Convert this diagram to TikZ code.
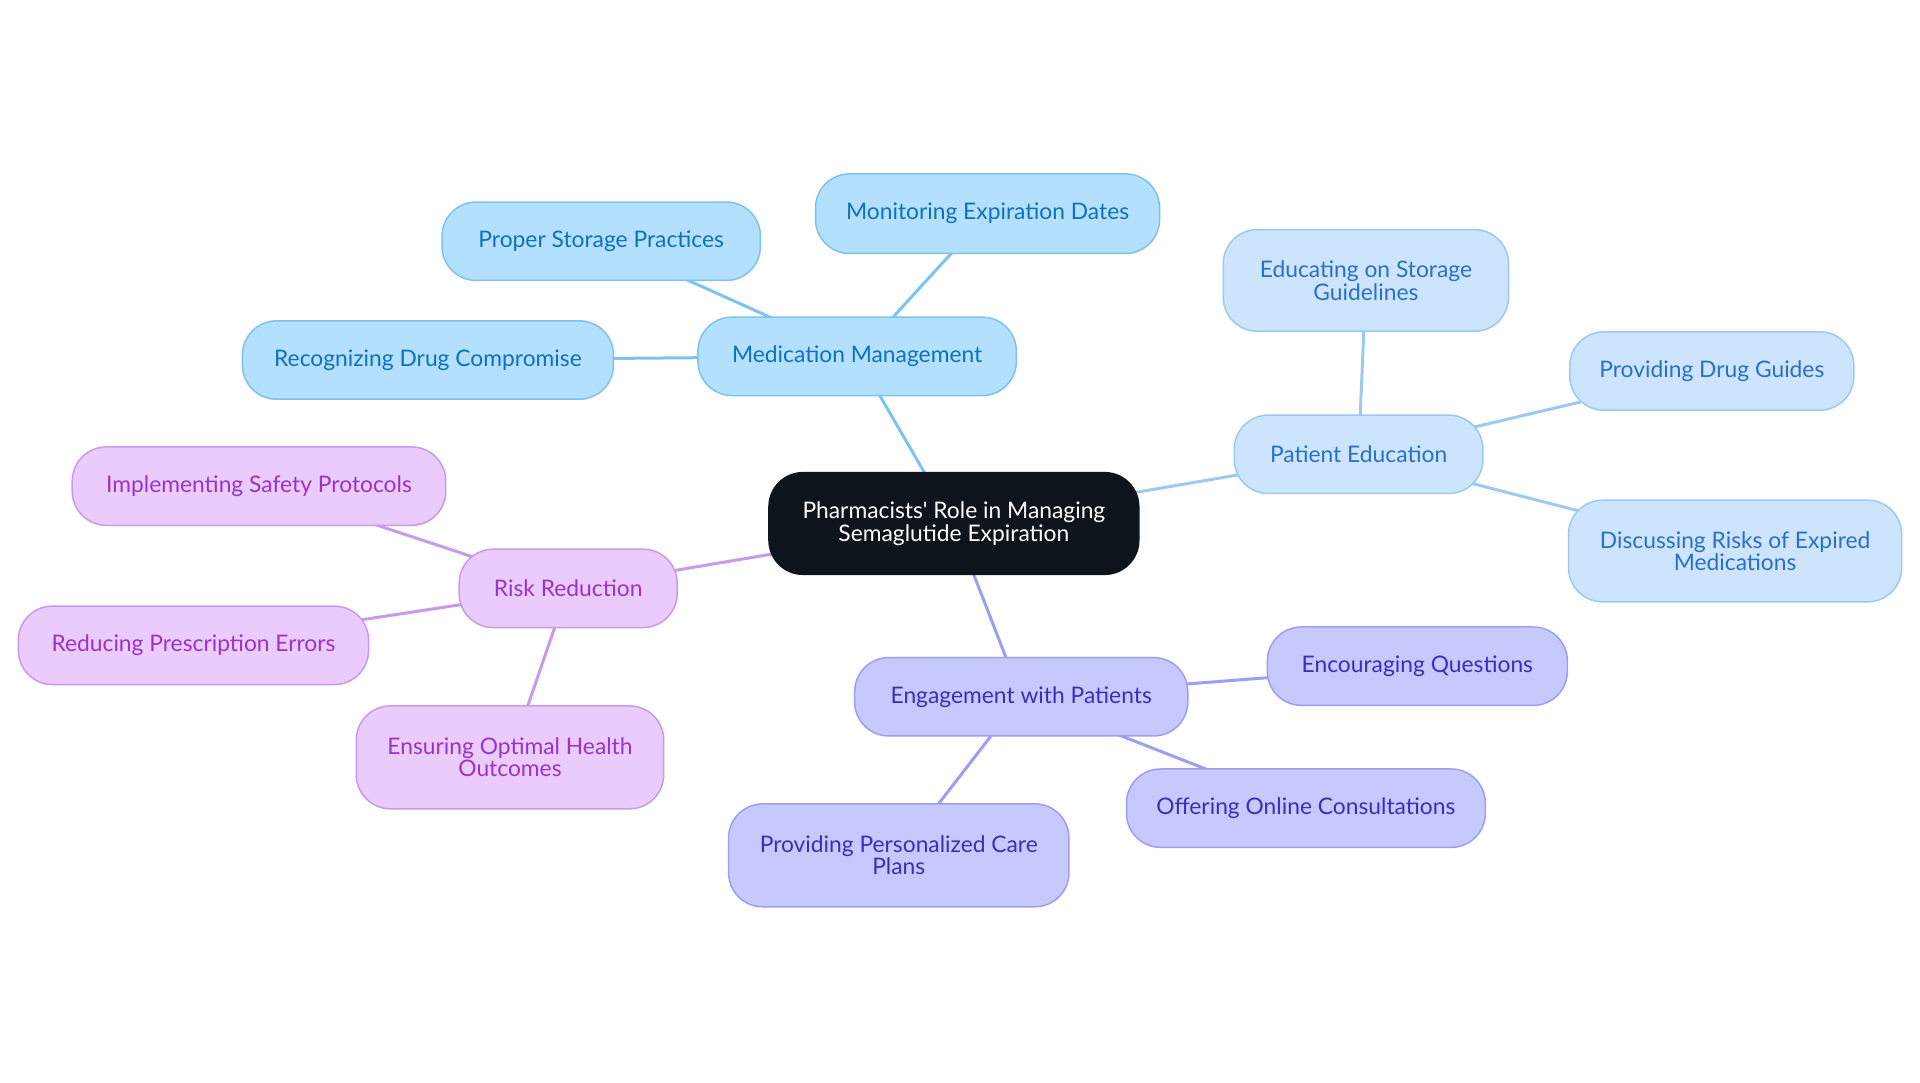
\documentclass[tikz,border=0pt]{standalone}
\usepackage{fontspec}
\setmainfont{Lato}
\usetikzlibrary{backgrounds}
\definecolor{mmfill}{HTML}{B3E0FD}
\definecolor{mmdraw}{HTML}{7EC3F0}
\definecolor{mmtext}{HTML}{1170C0}
\definecolor{pefill}{HTML}{CCE5FC}
\definecolor{pedraw}{HTML}{9CC9F2}
\definecolor{petext}{HTML}{2B6FCB}
\definecolor{rrfill}{HTML}{EACBFC}
\definecolor{rrdraw}{HTML}{C99AEB}
\definecolor{rrtext}{HTML}{9A33CC}
\definecolor{ewfill}{HTML}{C7C9FD}
\definecolor{ewdraw}{HTML}{9E9EF0}
\definecolor{ewtext}{HTML}{3A2EC0}
\definecolor{rootfill}{HTML}{0E141B}
\tikzset{
  x=0.6122pt, y=-0.6122pt,
  base/.style={rounded corners=17pt, line width=0.75pt, align=center, inner sep=0pt,
    font=\fontsize{11.4}{11.3}\selectfont},
  sz/.style 2 args={minimum width=#1*0.6122pt, minimum height=#2*0.6122pt},
  rootbox/.style={base, fill=rootfill, draw=rootfill, text=white},
  mmbox/.style={base, fill=mmfill, draw=mmdraw, text=mmtext},
  pebox/.style={base, fill=pefill, draw=pedraw, text=petext},
  rrbox/.style={base, fill=rrfill, draw=rrdraw, text=rrtext},
  ewbox/.style={base, fill=ewfill, draw=ewdraw, text=ewtext},
  link/.style={line width=1.5pt},
}
\begin{document}
\begin{tikzpicture}
\useasboundingbox (0,0) rectangle (1568,884.4);
\node[rootbox, sz={302}{83}] (root) at (779,427.5) {Pharmacists\textquotesingle\ Role in Managing\\Semaglutide Expiration};
\node[mmbox, sz={260}{64}] (mm) at (700,291) {Medication Management};
\node[mmbox, sz={260}{64}] (psp) at (491,197) {Proper Storage Practices};
\node[mmbox, sz={281}{65}] (med) at (806.5,174.5) {Monitoring Expiration Dates};
\node[mmbox, sz={303}{64}] (rdc) at (349.5,294) {Recognizing Drug Compromise};
\node[pebox, sz={203}{64}] (pe) at (1109.5,371) {Patient Education};
\node[pebox, sz={233}{83}] (esg) at (1115.5,229) {Educating on Storage\\Guidelines};
\node[pebox, sz={232}{64}] (pdg) at (1398,303) {Providing Drug Guides};
\node[pebox, sz={272}{83}] (dre) at (1417,450) {Discussing Risks of Expired\\Medications};
\node[rrbox, sz={178}{64}] (rr) at (464,480.5) {Risk Reduction};
\node[rrbox, sz={305}{64}] (isp) at (211.5,397) {Implementing Safety Protocols};
\node[rrbox, sz={286}{64}] (rpe) at (158,527) {Reducing Prescription Errors};
\node[rrbox, sz={251}{84}] (eoh) at (416.5,618.5) {Ensuring Optimal Health\\Outcomes};
\node[ewbox, sz={272}{64}] (ewp) at (834,569) {Engagement with Patients};
\node[ewbox, sz={245}{64}] (eq) at (1157.5,544) {Encouraging Questions};
\node[ewbox, sz={293}{64}] (ooc) at (1066.5,660) {Offering Online Consultations};
\node[ewbox, sz={278}{84}] (ppc) at (734,698.5) {Providing Personalized Care\\Plans};
\begin{scope}[on background layer]
\draw[link, mmdraw] (root.center) -- (mm.center);
\draw[link, mmdraw] (mm.center) -- (psp.center);
\draw[link, mmdraw] (mm.center) -- (med.center);
\draw[link, mmdraw] (mm.center) -- (rdc.center);
\draw[link, pedraw] (root.center) -- (pe.center);
\draw[link, pedraw] (pe.center) -- (esg.center);
\draw[link, pedraw] (pe.center) -- (pdg.center);
\draw[link, pedraw] (pe.center) -- (dre.center);
\draw[link, rrdraw] (root.center) -- (rr.center);
\draw[link, rrdraw] (rr.center) -- (isp.center);
\draw[link, rrdraw] (rr.center) -- (rpe.center);
\draw[link, rrdraw] (rr.center) -- (eoh.center);
\draw[link, ewdraw] (root.center) -- (ewp.center);
\draw[link, ewdraw] (ewp.center) -- (eq.center);
\draw[link, ewdraw] (ewp.center) -- (ooc.center);
\draw[link, ewdraw] (ewp.center) -- (ppc.center);
\end{scope}
\end{tikzpicture}
\end{document}
